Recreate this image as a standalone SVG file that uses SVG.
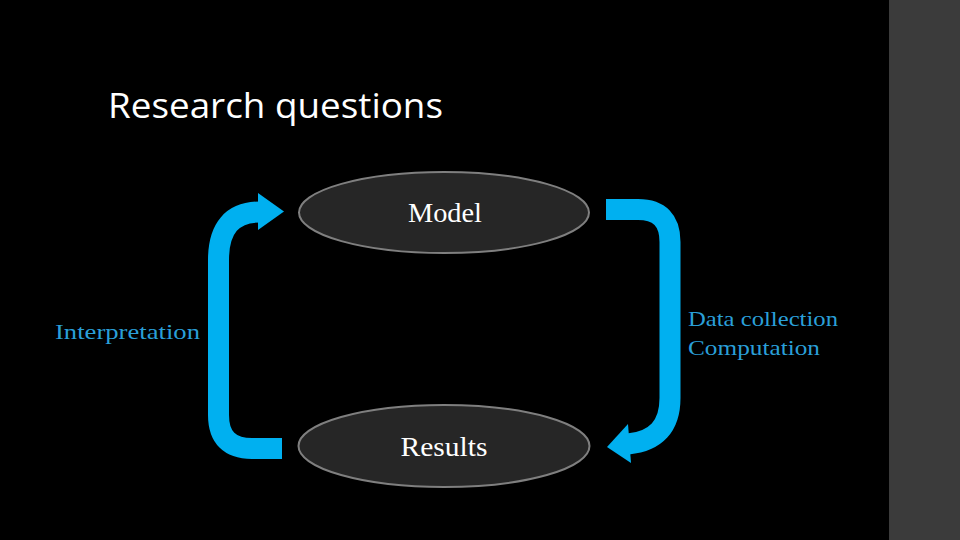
<svg xmlns="http://www.w3.org/2000/svg" width="960" height="540" viewBox="0 0 960 540">
<defs>
<style>
.node ellipse{fill:#262626;stroke:#7f7f7f;stroke-width:2}
.node text{font-family:"Liberation Serif","DejaVu Serif",serif;font-size:27px;fill:#ffffff;text-anchor:middle}
.lbl{font-family:"Liberation Serif","DejaVu Serif",serif;font-size:22px;fill:#2a9fd8}
.conn path.shaft{fill:none;stroke:#00b0f0;stroke-width:21}
.conn polygon{fill:#00b0f0}
</style>
</defs>
<rect x="0" y="0" width="960" height="540" fill="#000000"/>
<rect x="889" y="0" width="71" height="540" fill="#3b3b3b"/>
<text x="108" y="118" font-family="'Open Sans','Liberation Sans',sans-serif" font-size="35" fill="#ffffff" textLength="335" lengthAdjust="spacingAndGlyphs">Research questions</text>
<g id="connectors" class="conn">
<path class="shaft" d="M282,448.5 H252 Q218.5,448.5 218.5,415 V260 Q218.5,212 260,212"/>
<polygon points="258,193 284,211.5 258,230"/>
<path class="shaft" d="M606,209.5 H638 Q670,209.5 670,242 V398 Q670,440 628,444"/>
<polygon points="628,424 607,447 631,463"/>
</g>
<g id="model" class="node">
<ellipse cx="444" cy="212.5" rx="145" ry="40.5"/>
<text x="445" y="222" textLength="74" lengthAdjust="spacingAndGlyphs">Model</text>
</g>
<g id="results" class="node">
<ellipse cx="444" cy="446" rx="145.5" ry="41"/>
<text x="444" y="456" textLength="87" lengthAdjust="spacingAndGlyphs">Results</text>
</g>
<g id="labels">
<text class="lbl" x="55" y="339" textLength="145" lengthAdjust="spacingAndGlyphs">Interpretation</text>
<text class="lbl" x="688" y="326" textLength="150" lengthAdjust="spacingAndGlyphs">Data collection</text>
<text class="lbl" x="688" y="355" textLength="132" lengthAdjust="spacingAndGlyphs">Computation</text>
</g>
</svg>
